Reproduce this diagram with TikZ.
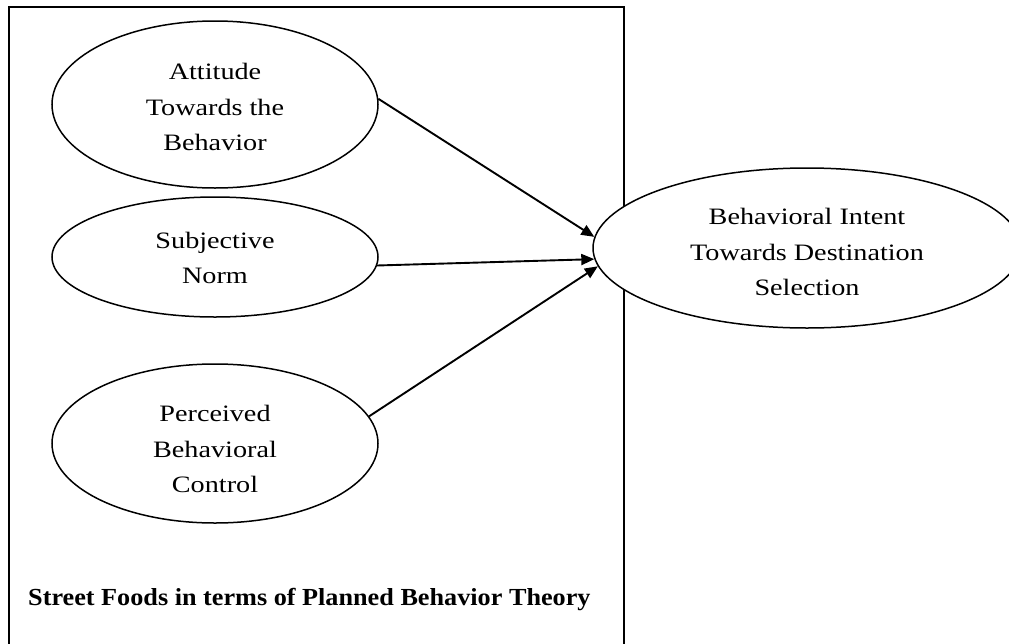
\documentclass[tikz,border=0pt]{standalone}
\usepackage{fontspec}
\setmainfont{Liberation Serif}
\newfontfamily\ellfont[FakeStretch=1.2]{Liberation Serif}
\newfontfamily\capfont[FakeStretch=1.07]{Liberation Serif}
\usetikzlibrary{shapes.geometric,arrows.meta}
\begin{document}
\begin{tikzpicture}[x=1pt,y=-1pt,
  oval/.style={ellipse,draw,line width=1.5pt,inner sep=0pt,fill=white},
  lbl/.style={align=center,inner sep=0pt,font=\ellfont\fontsize{23.5}{35.5}\selectfont},
  conn/.style={line width=1.9pt,-{Triangle[length=13pt,width=11pt]}}]
\useasboundingbox (0,0) rectangle (1009,643);
\draw[line width=1.6pt] (9,7) rectangle (624,670);
\node[oval, minimum width=326pt, minimum height=167pt] (e1) at (215,104.5) {};
\node[oval, minimum width=326pt, minimum height=120pt] (e2) at (215,257) {};
\node[oval, minimum width=326pt, minimum height=159pt] (e3) at (215,443.5) {};
\node[oval, minimum width=428pt, minimum height=160pt] (e4) at (807,248) {};
\node[lbl] (t1) at (215,107.3) {Attitude\\Towards the\\Behavior};
\node[lbl] (t2) at (215,258) {Subjective\\Norm};
\node[lbl] (t3) at (215,449.4) {Perceived\\Behavioral\\Control};
\node[lbl] (t4) at (807,252) {Behavioral Intent\\Towards Destination\\Selection};
\node[anchor=base west, inner sep=0pt, font=\capfont\bfseries\fontsize{24.5}{29}\selectfont] (cap) at (28,605.7) {Street Foods in terms of Planned Behavior Theory};
\draw[conn] (e1.2) -- (e4.177);
\draw[conn] (e2.-3) -- (e4.183);
\draw[conn] (e3.10) -- (e4.185);
\end{tikzpicture}
\end{document}
